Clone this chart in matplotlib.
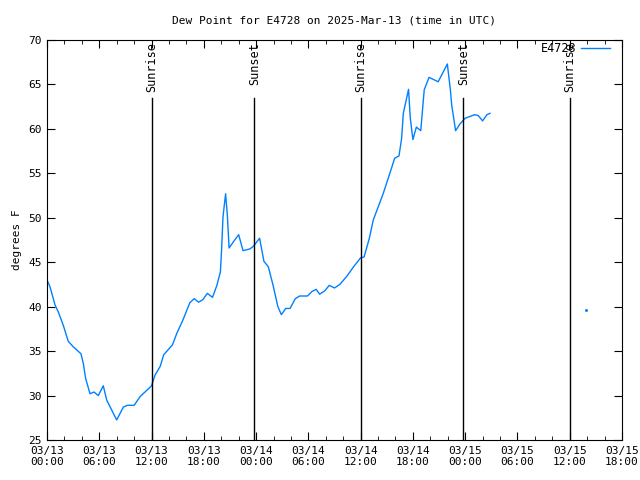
import matplotlib
matplotlib.use("Agg")
import matplotlib.pyplot as plt
from datetime import datetime, timedelta

start = datetime(2025, 3, 13, 0, 0)

hours = [0.0, 0.34, 0.92, 1.3, 1.87, 2.44, 3.0, 3.9, 4.17, 4.44, 4.94, 5.39, 5.89,
         6.46, 6.85, 7.31, 8.0, 8.76, 9.22, 10.0, 10.7, 11.25, 12.0, 12.4, 13.0,
         13.4, 14.4, 14.9, 15.6, 16.4, 16.9, 17.4, 17.9, 18.4, 19.0, 19.5, 19.9,
         20.05, 20.2, 20.5, 20.7, 20.9, 21.4, 22.0, 22.5, 23.3, 23.7, 24.4, 24.9,
         25.4, 25.95, 26.5, 26.9, 27.4, 27.9, 28.5, 29.0, 29.9, 30.4, 30.9, 31.3,
         31.9, 32.4, 33.0, 33.6, 34.4, 35.2, 36.0, 36.4, 37.0, 37.45, 38.6, 39.6,
         39.9, 40.4, 40.7, 40.9, 41.5, 41.7, 42.0, 42.4, 42.9, 43.3, 43.85, 44.9,
         45.95, 46.3, 46.45, 46.9, 47.4, 48.0, 49.1, 49.5, 50.0, 50.5, 50.85]
dewpoint = [43.0, 42.25, 40.2, 39.4, 37.9, 36.1, 35.5, 34.7, 33.6, 31.9, 30.2, 30.4, 30.0,
            31.1, 29.5, 28.6, 27.25, 28.7, 28.9, 28.9, 29.9, 30.4, 31.1, 32.3, 33.3,
            34.6, 35.7, 37.0, 38.5, 40.45, 40.9, 40.5, 40.8, 41.5, 41.05, 42.4, 43.9,
            46.6, 50.1, 52.7, 50.3, 46.6, 47.3, 48.1, 46.3, 46.5, 46.8, 47.7, 45.1,
            44.5, 42.4, 40.0, 39.1, 39.8, 39.8, 40.9, 41.2, 41.2, 41.7, 41.95, 41.4,
            41.8, 42.4, 42.1, 42.5, 43.4, 44.5, 45.5, 45.6, 47.7, 49.75, 52.75, 55.75,
            56.7, 56.95, 58.9, 61.75, 64.45, 61.2, 58.8, 60.2, 59.8, 64.4, 65.8, 65.3,
            67.3, 64.4, 62.7, 59.8, 60.55, 61.2, 61.6, 61.5, 60.9, 61.6, 61.75]

lone_hour = [61.9]
lone_value = [39.6]

sun_hours = [12.05, 23.8, 36.05, 47.8, 60.05]
sun_labels = ["Sunrise", "Sunset", "Sunrise", "Sunset", "Sunrise"]

tick_hours = list(range(0, 67, 6))
minor_hours = list(range(0, 67, 2))

mono = "DejaVu Sans Mono"
plt.rcParams['font.family'] = mono
plt.rcParams['font.size'] = 8

fig = plt.figure(figsize=(6.4, 4.8), dpi=100)
ax = fig.add_axes([47/640, 40/480, 575/640, 400/480])

t = [start + timedelta(hours=h) for h in hours]
ax.plot(t, dewpoint, color="#0080ff", lw=1, label="E4728")
ax.plot([start + timedelta(hours=h) for h in lone_hour], lone_value, ls="none",
        marker="s", ms=1, color="#0080ff")

for h, lab in zip(sun_hours, sun_labels):
    x = start + timedelta(hours=h)
    ax.plot([x, x], [25, 63.5], color="black", lw=1)
    ax.text(x, 69.8, lab, rotation=90, ha="center", va="top", fontsize=8.5)

ax.set_xlim(start, start + timedelta(hours=66))
ax.set_ylim(25, 70)
ticks = [start + timedelta(hours=h) for h in tick_hours]
ax.set_xticks(ticks)
ax.set_xticks([start + timedelta(hours=h) for h in minor_hours], minor=True)
ax.set_xticklabels([d.strftime("%m/%d\n%H:%M") for d in ticks])
ax.set_yticks(range(25, 71, 5))
ax.tick_params(which="major", direction="in", top=True, right=True, length=6, pad=4)
ax.tick_params(which="minor", direction="in", top=True, bottom=True, length=3)
ax.set_title("Dew Point for E4728 on 2025-Mar-13 (time in UTC)", fontsize=8, pad=12)
ax.set_ylabel("degrees F")

ax.legend(loc="upper right", bbox_to_anchor=(0.979, 0.994), frameon=False,
          markerfirst=False, handlelength=2.45, handletextpad=0.35,
          borderaxespad=0, borderpad=0, fontsize=8.5)

fig.savefig("out.png", dpi=100)
